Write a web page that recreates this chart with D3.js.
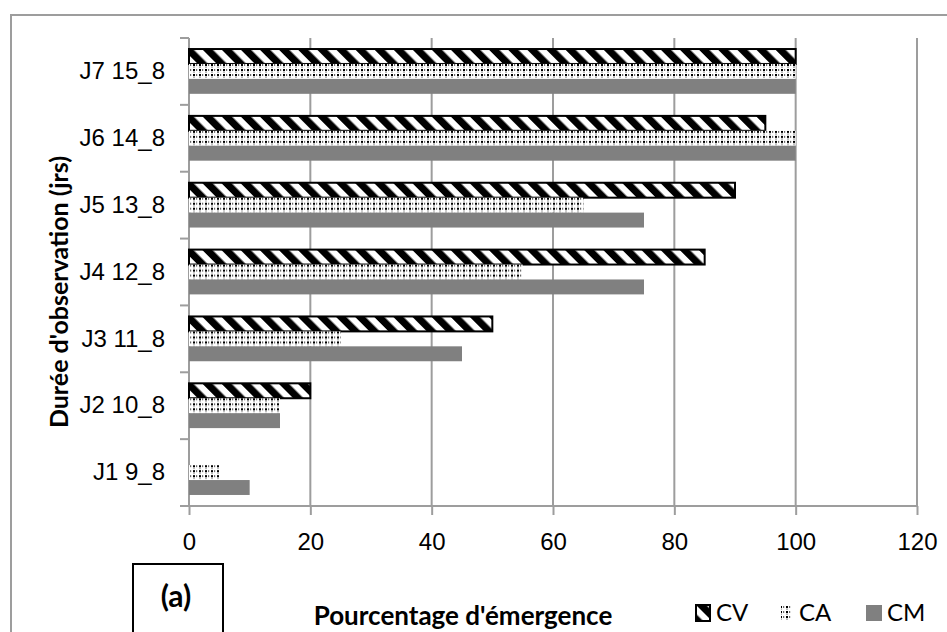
<!DOCTYPE html>
<html>
<head>
<meta charset="utf-8">
<script src="https://cdn.jsdelivr.net/npm/d3@7/dist/d3.min.js"></script>
<style>
  html, body { margin: 0; padding: 0; background: #fff; }
  svg { display: block; font-family: Lato, "Open Sans", sans-serif; }
</style>
</head>
<body>
<script>
// Observation days (top to bottom) and emergence percentages per treatment
const categories = ["J7 15_8", "J6 14_8", "J5 13_8", "J4 12_8", "J3 11_8", "J2 10_8", "J1 9_8"];
const series = ["CV", "CA", "CM"];
const valuesCV = [100, 95, 90, 85, 50, 20, 0];
const valuesCA = [100, 100, 65, 55, 25, 15, 5];
const valuesCM = [100, 100, 75, 75, 45, 15, 10];
const xTicks = [0, 20, 40, 60, 80, 100, 120];

const W = 947, H = 632;
const plotLeft = 189, plotRight = 917, plotTop = 38, plotBottom = 506;
const axisGrey = "#9d9d9d";

const svg = d3.select("body").append("svg").attr("width", W).attr("height", H);
const defs = svg.append("defs");

// Diagonal black stripes on white (CV)
const stripes = defs.append("pattern")
  .attr("id", "pat-cv").attr("patternUnits", "userSpaceOnUse")
  .attr("width", 13.5).attr("height", 13.5)
  .attr("patternTransform", "rotate(-45)");
stripes.append("rect").attr("width", 13.5).attr("height", 13.5).attr("fill", "#fff");
stripes.append("rect").attr("width", 7.2).attr("height", 13.5).attr("fill", "#000");

// Dotted grid (CA)
const dots = defs.append("pattern")
  .attr("id", "pat-ca").attr("patternUnits", "userSpaceOnUse")
  .attr("width", 6).attr("height", 5);
dots.append("rect").attr("width", 6).attr("height", 5).attr("fill", "#fff");
dots.append("rect").attr("x", 1).attr("y", 1).attr("width", 2).attr("height", 2).attr("fill", "#000");
dots.append("rect").attr("x", 4).attr("y", 1).attr("width", 1.2).attr("height", 2).attr("fill", "#6a6a6a");
dots.append("rect").attr("x", 1).attr("y", 3.6).attr("width", 2).attr("height", 1).attr("fill", "#8a8a8a");

const fills = { CV: "url(#pat-cv)", CA: "url(#pat-ca)", CM: "#808080" };
const valueMap = { CV: valuesCV, CA: valuesCA, CM: valuesCM };

// Outer frame
svg.append("rect").attr("x", 11).attr("y", 15).attr("width", 980).attr("height", 700)
  .attr("fill", "none").attr("stroke", axisGrey).attr("stroke-width", 2);

const x = d3.scaleLinear().domain([0, 120]).range([plotLeft, plotRight]);
const y = d3.scaleBand().domain(categories).range([plotTop, plotBottom]).padding(0);
const y1 = d3.scaleBand().domain(series)
  .range([y.bandwidth() * 0.165, y.bandwidth() * 0.835]).padding(0);

// Vertical gridlines
svg.append("g").selectAll("line").data(xTicks.slice(1)).join("line")
  .attr("x1", d => x(d)).attr("x2", d => x(d))
  .attr("y1", plotTop).attr("y2", plotBottom)
  .attr("stroke", axisGrey).attr("stroke-width", 2);

// X axis
const xAxis = svg.append("g").attr("transform", `translate(0,${plotBottom})`)
  .call(d3.axisBottom(x).tickValues(xTicks).tickSizeInner(9).tickSizeOuter(0).tickPadding(18));
xAxis.select(".domain").attr("stroke", axisGrey).attr("stroke-width", 2)
  .attr("d", `M${plotLeft - 9},0H${plotRight}`);
xAxis.selectAll(".tick line").attr("stroke", axisGrey).attr("stroke-width", 2);
xAxis.selectAll(".tick text").attr("font-size", 24).attr("fill", "#000");

// Y axis: labels centred on bands, tick marks on band boundaries
const yAxis = svg.append("g").attr("transform", `translate(${plotLeft},0)`)
  .call(d3.axisLeft(y).tickSize(0).tickPadding(24));
yAxis.select(".domain").attr("stroke", axisGrey).attr("stroke-width", 2)
  .attr("d", `M0,${plotTop}V${plotBottom}`);
yAxis.selectAll(".tick text").attr("font-size", 24).attr("fill", "#000");
const bounds = categories.map(c => y(c));
yAxis.append("g").selectAll("line").data(bounds).join("line")
  .attr("x1", -9).attr("x2", 0).attr("y1", d => d).attr("y2", d => d)
  .attr("stroke", axisGrey).attr("stroke-width", 2);

// Bars
const groups = svg.append("g").selectAll("g").data(categories).join("g")
  .attr("transform", c => `translate(0,${y(c)})`);
groups.selectAll("rect").data((c, i) => series.map(s => ({ s, v: valueMap[s][i] })).filter(d => d.v > 0))
  .join("rect")
  .attr("x", x(0))
  .attr("y", d => y1(d.s))
  .attr("width", d => x(d.v) - x(0))
  .attr("height", y1.bandwidth())
  .attr("fill", d => fills[d.s])
  .attr("stroke", d => d.s === "CV" ? "#000" : "none")
  .attr("stroke-width", 2);

// Axis titles
svg.append("text")
  .attr("transform", "translate(68,292) rotate(-90)")
  .attr("text-anchor", "middle")
  .attr("font-size", 25).attr("font-weight", "bold")
  .text("Durée d'observation (jrs)");

svg.append("text")
  .attr("x", 463).attr("y", 625)
  .attr("text-anchor", "middle")
  .attr("font-size", 26).attr("font-weight", "bold")
  .text("Pourcentage d'émergence");

// Panel tag
svg.append("rect").attr("x", 133).attr("y", 564).attr("width", 90).attr("height", 100)
  .attr("fill", "#fff").attr("stroke", "#000").attr("stroke-width", 2);
svg.append("text").attr("x", 176).attr("y", 607).attr("text-anchor", "middle")
  .attr("font-size", 30).attr("font-weight", "bold").text("(a)");

// Legend
const legendX = { CV: 696, CA: 779, CM: 866 };
const legend = svg.append("g").selectAll("g").data(series).join("g")
  .attr("transform", s => `translate(${legendX[s]},605)`);
legend.append("rect")
  .attr("x", s => s === "CA" ? 2 : 0)
  .attr("width", s => s === "CA" ? 11 : (s === "CM" ? 16 : 14)).attr("height", 16)
  .attr("fill", s => fills[s])
  .attr("stroke", s => s === "CV" ? "#000" : "none").attr("stroke-width", 2);
legend.append("text").attr("x", s => s === "CM" ? 21 : 20).attr("y", 16)
  .attr("font-size", 24).attr("fill", "#000").text(s => s);
</script>
</body>
</html>
